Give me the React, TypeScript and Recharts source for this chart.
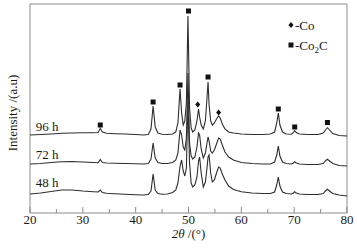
import React from 'react';
import {
  ComposedChart,
  Line,
  Scatter,
  XAxis,
  YAxis,
  ReferenceArea,
  ReferenceDot,
  Legend,
} from 'recharts';

// 2θ grid (degrees)
const twoTheta = [
  20, 22, 24, 26, 28, 30, 32, 32.9, 33.3, 33.7, 34.5, 36, 38, 40, 41.5, 42.4, 42.9, 43.3, 43.7, 44.2,
  45, 46, 47, 47.6, 48.0, 48.4, 48.7, 49.0, 49.3, 49.6, 49.9, 50.2, 50.5, 50.8, 51.2, 51.6, 51.9, 52.1,
  52.4, 52.8, 53.2, 53.5, 53.7, 53.9, 54.2, 54.5, 54.9, 55.3, 55.7, 56.0, 56.4, 56.9, 57.6, 58.5, 60,
  62, 64, 65.5, 66.3, 66.7, 67.0, 67.3, 67.8, 68.5, 69.5, 69.85, 70.1, 70.4, 71, 72.5, 74.5, 75.5, 76.0,
  76.3, 76.7, 77.3, 78.5, 80,
];

// Intensity (a.u., stacked offsets included)
const h48 = [
  19, 20, 21.5, 23, 23, 22, 21.3, 21, 23, 20.5, 19.7, 19.3, 18.8, 18.3, 18, 18.5, 22, 39, 23, 19.5,
  18.8, 19, 20.5, 23, 30, 47, 53, 42, 37, 45, 112, 50, 30, 26, 28, 36, 52, 56,
  40, 26, 31, 45, 56, 58, 40, 31, 33, 40, 46, 45, 39, 33, 27, 23.5, 21.3,
  20, 19.5, 19.5, 21, 28, 36, 27, 21, 19.5, 19, 20, 21.3, 20, 19, 18.5, 18.5, 19.5, 22.5,
  23.7, 22, 19.5, 18, 17,
];
const h72 = [
  49, 49.5, 50.5, 51.3, 51.5, 51, 50.5, 50.3, 53.5, 50.5, 50, 49.8, 49.5, 49.2, 49, 49.5, 54, 70, 55, 50.5,
  49.5, 49.5, 50.5, 53, 60, 83, 78, 66, 63, 75, 140, 70, 57, 54, 56, 66, 80, 78,
  64, 55, 60, 70, 76, 72, 62, 60, 63, 69, 75, 74, 68, 61, 56, 53, 50.5,
  49.5, 49, 49, 51, 58, 67, 57, 51, 49.5, 49, 50, 51.3, 50, 49, 48.5, 48.5, 49.5, 52.5,
  53.7, 52, 49.5, 47.5, 47,
];
const h96 = [
  78, 78.5, 79, 79.7, 80, 80.3, 80.3, 80.5, 84.7, 81, 79.7, 79.3, 79, 78.5, 78, 78.5, 84, 107, 86, 80,
  78.8, 78.5, 79, 81, 90, 124, 100, 88, 92, 110, 197, 105, 85, 81, 83, 92, 104, 96,
  88, 84, 92, 115, 131, 108, 92, 88, 90, 94, 97, 95, 89, 84, 81, 80, 79,
  78.5, 78.5, 79, 81, 90, 100, 88, 81, 79, 78.8, 80.5, 82.3, 80.5, 79, 78.5, 78.5, 80, 83.5,
  85.3, 83, 79.5, 77.5, 77,
];

// Phase markers
const co2cX = [33.3, 43.3, 48.4, 50.0, 53.7, 67.0, 70.1, 76.3];
const co2cY = [88, 111, 128, 202, 136, 104, 86, 90.5];
const coX = [51.75, 55.7];
const coY = [108.5, 100.5];

const traceNames = ['48 h', '72 h', '96 h'];
const traceLabelY = [31, 59, 87];
const xTicks = [20, 25, 30, 35, 40, 45, 50, 55, 60, 65, 70, 75, 80];

const data = twoTheta.map((x, i) => ({ x, h48: h48[i], h72: h72[i], h96: h96[i] }));
const co2cData = co2cX.map((x, i) => ({ x, y: co2cY[i] }));
const coData = coX.map((x, i) => ({ x, y: coY[i] }));

const FONT = "'Times New Roman', 'Liberation Serif', Times, serif";
const TEXT = '#1a1a1a';
const FRAME = '#8c8c8c';
const LINE = '#2e2e2e';

const XTick = (props: any) => {
  const { x, y, payload } = props;
  const v = payload.value;
  const major = v % 10 === 0;
  return (
    <g>
      <line x1={x} y1={y} x2={x} y2={y - (major ? 6 : 4)} stroke={FRAME} strokeWidth={1} />
      {major && (
        <text x={x} y={y + 11} textAnchor="middle" fontSize={13} fontFamily={FONT} fill={TEXT}>
          {v}
        </text>
      )}
    </g>
  );
};

const XTitle = (props: any) => {
  const vb = props.viewBox || {};
  const cx = vb.x + vb.width / 2;
  const cy = vb.y + 24.5;
  return (
    <text x={cx} y={cy} textAnchor="middle" fontSize={13} fontFamily={FONT} fill={TEXT}>
      <tspan fontStyle="italic">2θ</tspan>
      <tspan> /(°)</tspan>
    </text>
  );
};

const YTitle = (props: any) => {
  const vb = props.viewBox || {};
  const cx = vb.x + vb.width - 18;
  const cy = vb.y + vb.height / 2 + 4.5;
  return (
    <text
      x={cx}
      y={cy}
      transform={`rotate(-90 ${cx} ${cy})`}
      textAnchor="middle"
      dominantBaseline="central"
      fontSize={13}
      fontFamily={FONT}
      fill={TEXT}
    >
      Intensity /(a.u)
    </text>
  );
};

const SquareShape = (props: any) => {
  const { cx, cy } = props;
  return <rect x={cx - 2.5} y={cy - 2.5} width={5} height={5} fill="#111" />;
};

const DiamondShape = (props: any) => {
  const { cx, cy } = props;
  return (
    <polygon
      points={`${cx},${cy - 3} ${cx + 2.5},${cy} ${cx},${cy + 3} ${cx - 2.5},${cy}`}
      fill="#111"
    />
  );
};

const LegendContent = () => (
  <svg width={70} height={40} style={{ display: 'block', overflow: 'visible' }}>
    <polygon points="6,7 8.5,10 6,13 3.5,10" fill="#111" />
    <text x={10} y={14.5} fontSize={13} fontFamily={FONT} fill={TEXT}>
      -Co
    </text>
    <rect x={3.5} y={27.5} width={5} height={5} fill="#111" />
    <text x={10} y={34.5} fontSize={13} fontFamily={FONT} fill={TEXT}>
      -Co
      <tspan fontSize={9} dy={3}>2</tspan>
      <tspan dy={-3}>C</tspan>
    </text>
  </svg>
);

export default function App() {
  return (
    <div style={{ position: 'absolute', left: 0, top: 0, width: 357, height: 249, background: '#fff' }}>
      <ComposedChart
        width={357}
        height={249}
        data={data}
        margin={{ top: 4, right: 10, bottom: 6, left: 0 }}
      >
        <XAxis
          type="number"
          dataKey="x"
          domain={[20, 80]}
          ticks={xTicks}
          interval={0}
          height={30}
          axisLine={false}
          tickLine={false}
          tickSize={0}
          tickMargin={0}
          tick={<XTick />}
          label={<XTitle />}
          allowDataOverflow
        />
        <YAxis
          type="number"
          domain={[0, 209]}
          width={30}
          tick={false}
          axisLine={false}
          tickLine={false}
          label={<YTitle />}
          allowDataOverflow
        />
        <ReferenceArea x1={20} x2={80} y1={0} y2={209} fill="none" stroke={FRAME} strokeWidth={1} />
        <Line type="linear" dataKey="h48" stroke={LINE} strokeWidth={1.1} dot={false} isAnimationActive={false} />
        <Line type="linear" dataKey="h72" stroke={LINE} strokeWidth={1.1} dot={false} isAnimationActive={false} />
        <Line type="linear" dataKey="h96" stroke={LINE} strokeWidth={1.1} dot={false} isAnimationActive={false} />
        <Scatter data={co2cData} dataKey="y" shape={<SquareShape />} isAnimationActive={false} />
        <Scatter data={coData} dataKey="y" shape={<DiamondShape />} isAnimationActive={false} />
        {traceNames.map((name, i) => (
          <ReferenceDot
            key={name}
            x={21.1}
            y={traceLabelY[i]}
            r={0}
            stroke="none"
            fill="none"
            label={{ value: name, position: 'right', offset: 0, fontSize: 13, fontFamily: FONT, fill: TEXT }}
          />
        ))}
        <Legend
          layout="horizontal"
          verticalAlign="middle"
          align="center"
          width={70}
          height={40}
          wrapperStyle={{ position: 'absolute', left: 285, top: 15, width: 70, height: 40 }}
          content={<LegendContent />}
        />
      </ComposedChart>
    </div>
  );
}
